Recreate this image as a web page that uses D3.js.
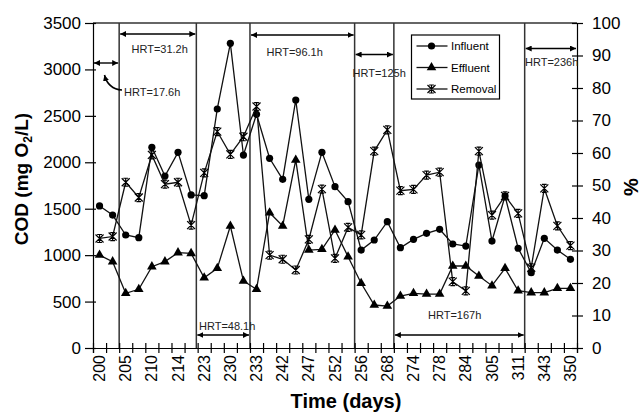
<!DOCTYPE html>
<html>
<head>
<meta charset="utf-8">
<script src="https://cdn.jsdelivr.net/npm/d3@7"></script>
<style>
  body { margin: 0; background: #fff; }
  svg { font-family: "Liberation Sans", Arial, sans-serif; }
  .tick text { fill: #000; }
</style>
</head>
<body>
<svg id="chart" width="641" height="414"></svg>
<script>
// x labels: one every second sample
const dayLabels = ['200', '205', '210', '214', '223', '230', '233', '242', '247', '252',
  '256', '268', '274', '278', '284', '305', '311', '343', '350'];
const samples = d3.range(37);
const influent = [1530, 1432, 1217, 1188, 2161, 1852, 2107, 1648, 1640, 2574,
  3281, 2078, 2517, 2043, 1816, 2671, 1601, 2107, 1737, 1576,
  1055, 1163, 1360, 1080, 1170, 1235, 1278, 1120, 1098, 1971,
  1152, 1637, 1074, 811, 1181, 1055, 955];
const effluent = [1001, 930, 589, 632, 876, 930, 1027, 1019, 757, 858,
  1314, 722, 632, 1457, 1314, 2025, 1055, 1063, 1271, 983,
  697, 463, 452, 560, 589, 581, 581, 883, 883, 775,
  671, 858, 617, 596, 596, 643, 643];
const removal = [33.7, 34.3, 51.0, 46.3, 59.4, 50.4, 51.0, 37.8, 53.9, 66.6,
  59.6, 65.0, 74.3, 28.6, 27.3, 24.0, 33.4, 48.9, 27.6, 37.1,
  34.8, 60.6, 67.1, 48.4, 48.8, 53.2, 54.1, 20.4, 17.6, 60.6,
  40.9, 46.8, 41.4, 24.7, 49.1, 37.6, 31.5];
// HRT periods, as sample boundaries
const hrtLabels = ['HRT=17.6h', 'HRT=31.2h', 'HRT=48.1h', 'HRT=96.1h', 'HRT=125h', 'HRT=167h', 'HRT=236h'];
const hrtBounds = [0, 2, 7.9, 12, 20, 23, 33, 37];

const svg = d3.select('#chart');
const L = 93, R = 577, T = 23, B = 348;

const x = d3.scaleBand().domain(samples).range([L, R]);
const xb = d3.scaleLinear().domain([0, samples.length]).range([L, R]);
const y = d3.scaleLinear().domain([0, 3500]).range([B, T]);
const y2 = d3.scaleLinear().domain([0, 100]).range([B, T]);
const cx = i => x(i) + x.bandwidth() / 2;

// arrow heads
const defs = svg.append('defs');
defs.append('marker').attr('id', 'ah').attr('viewBox', '0 0 10 10')
  .attr('refX', 10).attr('refY', 5).attr('markerWidth', 6).attr('markerHeight', 6)
  .attr('markerUnits', 'userSpaceOnUse').attr('orient', 'auto-start-reverse')
  .append('path').attr('d', 'M0,0L10,5L0,10Z').attr('fill', '#000');

// frame
svg.append('line').attr('x1', L).attr('x2', R).attr('y1', T).attr('y2', T)
  .attr('stroke', '#333').attr('stroke-width', 1.3);

// period dividers
svg.append('g').selectAll('line').data(hrtBounds.slice(1, -1)).join('line')
  .attr('x1', d => xb(d)).attr('x2', d => xb(d)).attr('y1', T).attr('y2', B)
  .attr('stroke', '#333').attr('stroke-width', 1.5);

// axes
const tickStyle = g => {
  g.select('.domain').attr('stroke', '#000').attr('stroke-width', 1.2);
  g.selectAll('.tick line').attr('stroke', '#000').attr('stroke-width', 1.2);
};
svg.append('g').attr('transform', `translate(${L},0)`)
  .call(d3.axisLeft(y).tickValues(d3.range(0, 3501, 500)).tickFormat(d3.format('d'))
    .tickSize(8).tickPadding(4))
  .call(tickStyle)
  .call(g => g.selectAll('.tick line').attr('x2', -8).attr('x1', 3))
  .call(g => g.selectAll('.tick text').attr('font-size', 17));
svg.append('g').attr('transform', `translate(${R},0)`)
  .call(d3.axisRight(y2).tickValues(d3.range(0, 101, 10)).tickSize(6).tickPadding(9))
  .call(tickStyle)
  .call(g => g.selectAll('.tick line').attr('x1', -5))
  .call(g => g.selectAll('.tick text').attr('font-size', 17));
// tick marks on sample boundaries
svg.append('g').attr('transform', `translate(0,${B})`)
  .call(d3.axisBottom(xb).tickValues(d3.range(0, samples.length + 1)).tickSize(5).tickFormat(''))
  .call(tickStyle)
  .call(g => g.selectAll('.tick line').attr('y1', -5));
// labels on every second sample
svg.append('g').attr('transform', `translate(0,${B})`)
  .call(d3.axisBottom(x).tickValues(samples.filter(i => i % 2 === 0))
    .tickFormat(i => dayLabels[i / 2]).tickSize(0))
  .call(g => g.select('.domain').remove())
  .call(g => g.selectAll('.tick text').attr('font-size', 16)
    .attr('text-anchor', 'end').attr('transform', 'rotate(-90)')
    .attr('x', -7).attr('y', 0).attr('dy', '0.35em'));

// titles
svg.append('text').attr('transform', 'translate(28,179) rotate(-90)')
  .attr('text-anchor', 'middle').attr('font-weight', 'bold').attr('font-size', 19)
  .call(t => {
    t.append('tspan').text('COD (mg O');
    t.append('tspan').text('2').attr('font-size', 12).attr('dy', 4);
    t.append('tspan').text('/L)').attr('dy', -4);
  });
svg.append('text').attr('x', 346).attr('y', 408).attr('text-anchor', 'middle')
  .attr('font-weight', 'bold').attr('font-size', 20).text('Time (days)');
svg.append('text').attr('transform', 'translate(638,187) rotate(-90)')
  .attr('text-anchor', 'middle').attr('font-weight', 'bold').attr('font-size', 20).text('%');

// HRT arrows and labels
const hrtLayout = [
  { ay: 63, tx: 124, ty: 95.5 },
  { ay: 34, tx: 131.5, ty: 53 },
  { ay: 335, tx: 199, ty: 330 },
  { ay: 35, tx: 266.5, ty: 55.5 },
  { ay: 54.5, tx: 352.5, ty: 76.5 },
  { ay: 335, tx: 428, ty: 319 },
  { ay: 48.5, tx: 525, ty: 66 }
];
const hrt = svg.append('g');
hrtLabels.forEach((lab, i) => {
  const p = hrtLayout[i];
  hrt.append('line').attr('x1', xb(hrtBounds[i]) + 1).attr('x2', xb(hrtBounds[i + 1]) - 1)
    .attr('y1', p.ay).attr('y2', p.ay).attr('stroke', '#000').attr('stroke-width', 1.4)
    .attr('marker-start', 'url(#ah)').attr('marker-end', 'url(#ah)');
  hrt.append('text').attr('x', p.tx).attr('y', p.ty).attr('font-size', 11)
    .attr('fill', '#222').text(lab);
});
hrt.append('path').attr('d', 'M122,90 Q108,89 104.5,75')
  .attr('fill', 'none').attr('stroke', '#000').attr('stroke-width', 1.6)
  .attr('marker-end', 'url(#ah)');

// markers
const star = s => `M${-s},${-s}L${s},${s}M${-s},${s}L${s},${-s}M0,${-s}L0,${s}` +
  `M${-s * 0.6},${-s}L${s * 0.6},${-s}M${-s * 0.6},${s}L${s * 0.6},${s}`;
const drawMarker = (g, kind) => {
  if (kind === 'circle') g.append('circle').attr('r', 3.6).attr('fill', '#000');
  else if (kind === 'triangle') g.append('path').attr('d', d3.symbol(d3.symbolTriangle, 40)())
    .attr('fill', '#000');
  else g.append('path').attr('d', star(4)).attr('stroke', '#000').attr('stroke-width', 1.2)
    .attr('fill', 'none');
};

const series = [
  { name: 'Influent', values: influent, scale: y, kind: 'circle' },
  { name: 'Effluent', values: effluent, scale: y, kind: 'triangle' },
  { name: 'Removal', values: removal, scale: y2, kind: 'star' }
];
series.forEach(s => {
  const line = d3.line().x((d, i) => cx(i)).y(d => s.scale(d));
  svg.append('path').datum(s.values).attr('d', line)
    .attr('fill', 'none').attr('stroke', '#111').attr('stroke-width', 1.3);
  svg.append('g').selectAll('g').data(s.values).join('g')
    .attr('transform', (d, i) => `translate(${cx(i)},${s.scale(d)})`)
    .each(function () { drawMarker(d3.select(this), s.kind); });
});

// legend
const lg = svg.append('g').attr('transform', 'translate(411.5,35)');
lg.append('rect').attr('width', 88).attr('height', 64).attr('fill', '#fff')
  .attr('stroke', '#000').attr('stroke-width', 1.2);
series.forEach((s, i) => {
  const row = lg.append('g').attr('transform', `translate(0,${11 + i * 21.5})`);
  row.append('line').attr('x1', 5).attr('x2', 36).attr('stroke', '#111').attr('stroke-width', 1.3);
  drawMarker(row.append('g').attr('transform', 'translate(20,0)'), s.kind);
  row.append('text').attr('x', 39.5).attr('dy', '0.35em').attr('font-size', 11.5).text(s.name);
});
</script>
</body>
</html>
